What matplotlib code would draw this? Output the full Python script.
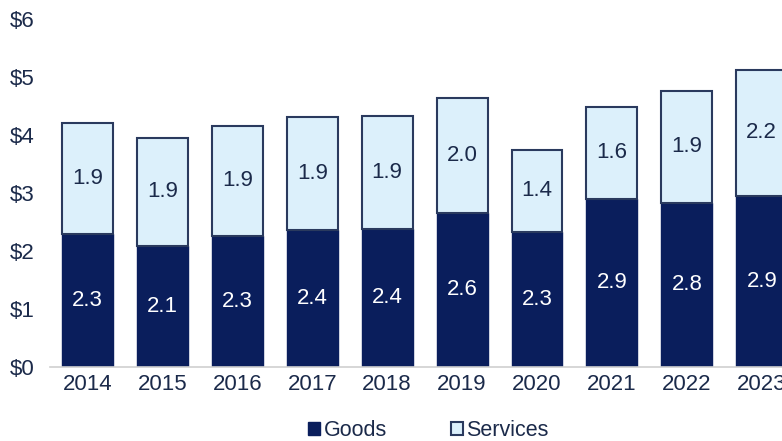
import matplotlib.pyplot as plt
import numpy as np

years = ['2014', '2015', '2016', '2017', '2018', '2019', '2020', '2021', '2022', '2023']
goods = [2.29, 2.09, 2.26, 2.36, 2.38, 2.66, 2.33, 2.90, 2.83, 2.95]
services = [1.91, 1.86, 1.90, 1.95, 1.95, 1.98, 1.41, 1.58, 1.93, 2.17]
goods_labels = ['2.3', '2.1', '2.3', '2.4', '2.4', '2.6', '2.3', '2.9', '2.8', '2.9']
services_labels = ['1.9', '1.9', '1.9', '1.9', '1.9', '2.0', '1.4', '1.6', '1.9', '2.2']
yticks = [0, 1, 2, 3, 4, 5, 6]

navy = '#0a1e5c'
light = '#dcf0fb'
edge = '#2a3a5e'
text_col = '#1b2a4a'

plt.rcParams['font.family'] = ['Liberation Sans', 'DejaVu Sans']

fig = plt.figure(figsize=(7.82, 4.41), dpi=100)
ax = fig.add_axes([50 / 782, 74 / 441, 1 - 50 / 782, (367 - 19) / 441])

x = np.arange(len(years))
w = 0.68
ax.bar(x, goods, width=w, color=navy, edgecolor=navy, linewidth=1, label='Goods')
ax.bar(x, services, width=w, bottom=goods, color=light, edgecolor=edge, linewidth=1.5, label='Services')

for i in range(len(years)):
    ax.text(x[i], goods[i] / 2, goods_labels[i], ha='center', va='center', color='white', fontsize=16)
    ax.text(x[i], goods[i] + services[i] / 2, services_labels[i], ha='center', va='center', color=text_col, fontsize=16)

ax.set_xlim(-0.5, 9.27)
ax.set_ylim(0, 6)
ax.set_xticks(x)
ax.set_xticklabels(years)
ax.set_yticks(yticks)
ax.set_yticklabels([f'${v}' for v in yticks])
ax.tick_params(axis='both', length=0, labelsize=16, colors=text_col)
ax.tick_params(axis='y', pad=11)
ax.tick_params(axis='x', pad=5)

for s in ['top', 'right', 'left']:
    ax.spines[s].set_visible(False)
ax.spines['bottom'].set_color('#d0d0d0')
ax.spines['bottom'].set_linewidth(1.2)

fig.legend(loc='lower center', bbox_to_anchor=(0.548, -0.045), ncol=2, frameon=False,
           fontsize=15.5, handlelength=0.55, handleheight=0.55, handletextpad=0.15,
           columnspacing=3.0, labelcolor=text_col)

fig.savefig('out.png', dpi=100)
